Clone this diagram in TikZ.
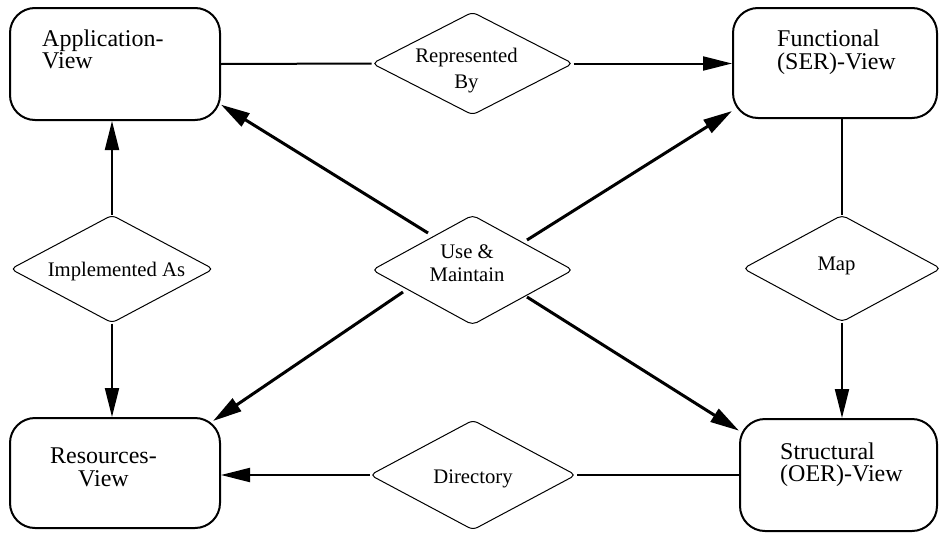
\documentclass[tikz,border=0pt]{standalone}
\usepackage{fontspec}
\setmainfont{Liberation Serif}
\usetikzlibrary{shapes.geometric,arrows.meta,calc}

\begin{document}
\begin{tikzpicture}[x=1pt,y=-1pt,
  viewbox/.style={draw, line width=2pt, rounded corners=25pt, inner sep=0pt},
  relation/.style={diamond, draw, line width=1pt, rounded corners=5pt, inner sep=0pt},
  boxlabel/.style={font=\fontsize{24}{22.5}\selectfont, inner sep=0pt},
  rellabel/.style={font=\fontsize{20.7}{24.5}\selectfont, align=center, inner sep=0pt},
  link/.style={line width=2pt},
  flow/.style={line width=2pt, -{Triangle[length=29pt,width=14pt]}},
  usage/.style={line width=3pt, -{Triangle[length=29pt,width=15pt]}}
]
\useasboundingbox (0,0) rectangle (941,533);

% the four views (labels are anchored at the baseline of their last line)
\node[viewbox, minimum width=210pt, minimum height=112pt] (app) at (115,64) {};
\node[viewbox, minimum width=204pt, minimum height=110pt] (fun) at (835,63) {};
\node[viewbox, minimum width=197pt, minimum height=112pt] (str) at (838.5,475) {};
\node[viewbox, minimum width=210pt, minimum height=110pt] (res) at (115,473) {};

\node[boxlabel, align=left, anchor=base west] (appT) at (42,68.8) {Application-\\View};
\node[boxlabel, align=left, anchor=base west] (funT) at (777,69) {Functional\\(SER)-View};
\node[boxlabel, align=left, anchor=base west] (strT) at (780,481.5) {Structural\\(OER)-View};
\node[boxlabel, align=center, anchor=base] (resT) at (103.5,486) {Resources-\\View};

% relations between them
\node[relation, minimum width=201pt, minimum height=103pt] (rb) at (472.5,63.5) {};
\node[relation, minimum width=201pt, minimum height=110pt] (um) at (472.5,270) {};
\node[relation, minimum width=203pt, minimum height=108pt] (imp) at (112,269) {};
\node[relation, minimum width=198pt, minimum height=107pt] (map) at (842,268.5) {};
\node[relation, minimum width=206pt, minimum height=110pt] (dir) at (473,475) {};

\node[rellabel, font=\fontsize{20.7}{25.6}\selectfont, anchor=base] (rbT) at (466.5,88.3) {Represented\\By};
\node[rellabel, font=\fontsize{20.7}{23.7}\selectfont, anchor=base] (umT) at (467,281.7) {Use \&\\Maintain};
\node[rellabel, anchor=base] (impT) at (116.5,276) {Implemented As};
\node[rellabel, anchor=base] (mapT) at (836.5,270.7) {Map};
\node[rellabel, anchor=base] (dirT) at (473,483) {Directory};

% connectors
\draw[link] (app.east) -- (rb.west);
\draw[flow] (rb.east) -- (rb.east -| fun.west);
\draw[link] (fun.south -| map.north) -- (map.north);
\draw[flow] (map.south) -- (map.south |- str.north);
\draw[link] (str.west |- dir.east) -- (dir.east);
\draw[flow] (dir.west) -- (dir.west -| res.east);
\draw[flow] (imp.north) -- (imp.north |- app.south);
\draw[flow] (imp.south) -- (imp.south |- res.north);

\draw[usage] ($(um.center)+(-44.5,-37)$) -- (app.-21);
\draw[usage] ($(um.center)+(54.5,-30)$) -- (fun.205);
\draw[usage] ($(um.center)+(-69.5,22)$) -- ($(res.north east)+(-8,4)$);
\draw[usage] ($(um.center)+(54.5,27)$) -- (str.156);
\end{tikzpicture}
\end{document}
